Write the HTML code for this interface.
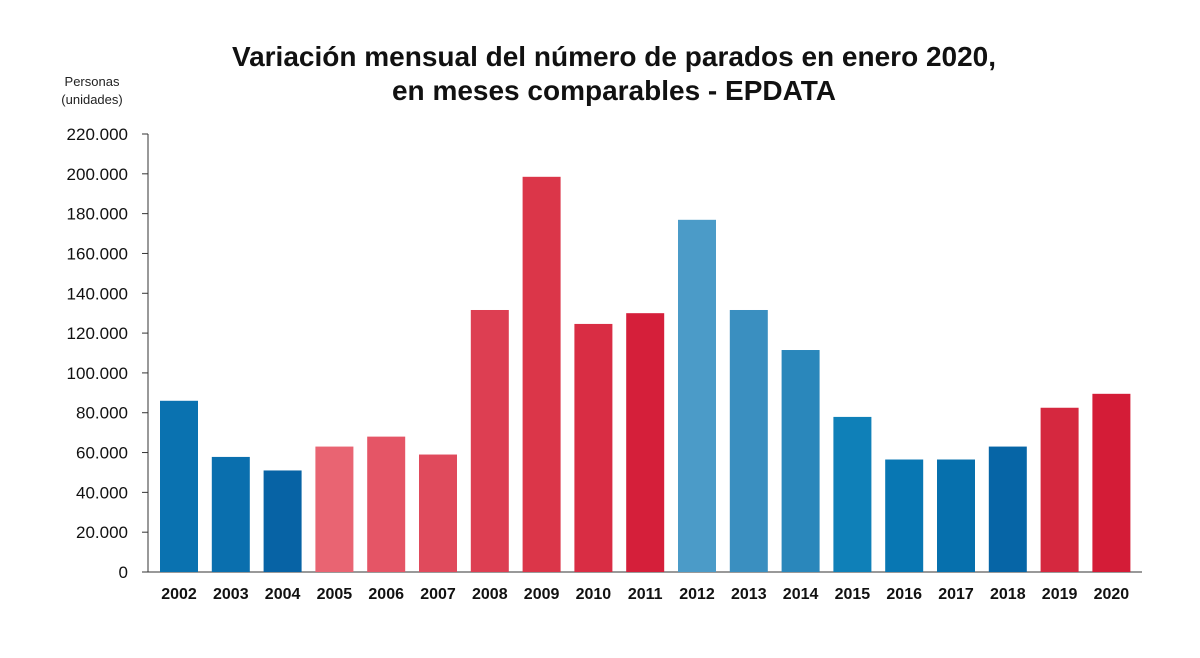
<!DOCTYPE html>
<html><head><meta charset="utf-8"><style>
body{margin:0;background:#fff;}
svg text{font-family:"Liberation Sans",sans-serif;}
</style></head><body>
<svg id="chart" width="1200" height="653">
<text x="614" y="66" text-anchor="middle" font-size="28" font-weight="bold" fill="#111">Variación mensual del número de parados en enero 2020,</text>
<text x="614" y="100" text-anchor="middle" font-size="28" font-weight="bold" fill="#111">en meses comparables - EPDATA</text>
<text x="92" y="86" text-anchor="middle" font-size="13" fill="#222">Personas</text>
<text x="92" y="104" text-anchor="middle" font-size="13" fill="#222">(unidades)</text>
<g id="axes"></g><g id="bars"></g>
</svg>
<script>
const years=["2002","2003","2004","2005","2006","2007","2008","2009","2010","2011","2012","2013","2014","2015","2016","2017","2018","2019","2020"];
const values=[86000,57800,51000,63000,68000,59000,131600,198500,124600,130000,176900,131600,111500,77900,56500,56500,63000,82500,89500];
const colors=["#0a72b0","#0a6fae","#0763a5","#e96472","#e55566","#e04a5c","#dd3e52","#db3649","#d92d44","#d51f3a","#4b9bc8","#3a8fc0","#2a87bb","#0f80b8","#0877b3","#0670ad","#0665a6","#d5283f","#d41c37"];
const ticks=[0,20000,40000,60000,80000,100000,120000,140000,160000,180000,200000,220000];
const ns="http://www.w3.org/2000/svg";
const y0=572,yTop=134,vMax=220000,xL=148,xR=1142;
const y=v=>y0-(v/vMax)*(y0-yTop);
const step=51.8;
const bw=38;
const bx=i=>160+i*step;
function mk(t,a,p){const e=document.createElementNS(ns,t);for(const k in a)e.setAttribute(k,a[k]);p.appendChild(e);return e;}
const ax=document.getElementById('axes'),bg=document.getElementById('bars');
const fmt=v=>v===0?"0":(v/1000).toFixed(0)+".000";
ticks.forEach(t=>{
  const l=mk('line',{x1:xL-6,x2:xL,y1:y(t),y2:y(t),stroke:'#333','stroke-width':1},ax);
  
  
  const tx=mk('text',{x:128,y:y(t)+6,'text-anchor':'end','font-size':17,fill:'#111'},ax);
  tx.textContent=fmt(t);
  
  
});
const ya=mk('line',{x1:xL,x2:xL,y1:yTop,y2:y0,stroke:'#333','stroke-width':1},ax);


const xa=mk('line',{x1:xL,x2:xR,y1:y0,y2:y0,stroke:'#333','stroke-width':1},ax);


years.forEach((yr,i)=>{
  const r=mk('rect',{x:bx(i),y:y(values[i]),width:bw,height:y0-y(values[i]),fill:colors[i]},bg);
  
  
  const t=mk('text',{x:bx(i)+bw/2,y:599,'text-anchor':'middle','font-size':16,'font-weight':'bold',fill:'#111'},bg);
  t.textContent=yr;
  
  
});
</script>
</body></html>
